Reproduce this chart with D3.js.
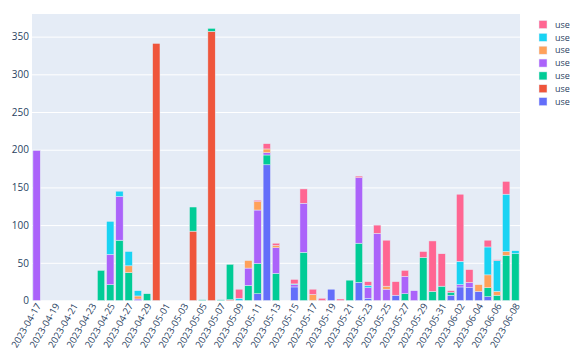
<!DOCTYPE html>
<html><head><meta charset="utf-8">
<script src="https://cdn.jsdelivr.net/npm/d3@7"></script>
<style>body{margin:0;background:#fff;} svg{display:block;font-family:"Open Sans",sans-serif;}</style>
</head><body><svg id="c" width="570" height="350"></svg>
<script>
const dates = ["2023-04-17","2023-04-24","2023-04-25","2023-04-26","2023-04-27","2023-04-28","2023-04-29","2023-04-30",
"2023-05-04","2023-05-05","2023-05-06","2023-05-07","2023-05-08","2023-05-09","2023-05-10","2023-05-11","2023-05-12","2023-05-13",
"2023-05-15","2023-05-16","2023-05-17","2023-05-18","2023-05-19","2023-05-20","2023-05-21","2023-05-22","2023-05-23","2023-05-24",
"2023-05-25","2023-05-26","2023-05-27","2023-05-28","2023-05-29","2023-05-30","2023-05-31","2023-06-01","2023-06-02","2023-06-03",
"2023-06-04","2023-06-05","2023-06-06","2023-06-07","2023-06-08"];
// stacking order bottom -> top
const seriesKeys = ["s1","s2","s3","s4","s5","s6","s7"];
const seriesLabels = ["use","use","use","use","use","use","use"];
const seriesColors = ["#636efa","#EF553B","#00cc96","#ab63fa","#FFA15A","#19d3f3","#FF6692"];
const blue   = [0,0,0,0,0,0,0,0, 0,0,0,0,0,0,0,9,180,0, 18,0,0,0,15,0,0,24,3,0, 0,7,0,0,0,0,0,7,18,17, 12,5,0,0,0];
const red    = [0,0,0,0,0,0,0,341, 92,0,357,0,1,0,0,0,0,0, 0,0,0,0,0,0,0,0,0,0, 0,0,0,0,0,0,0,0,0,0, 0,0,0,0,0];
const green  = [0,40,21,80,37,0,9,0, 32,1,4,1,47,0,20,40,13,36, 0,64,0,0,0,0,27,52,0,0, 0,0,9,0,57,12,19,4,0,0, 0,12,7,60,62];
const purple = [199,0,40,58,0,2,0,0, 0,0,0,0,0,0,23,71,3,34, 3,65,0,0,0,0,0,87,14,89, 15,0,23,13,0,0,0,0,3,7, 0,0,0,0,0];
const orange = [0,0,0,0,9,4,0,0, 0,0,0,0,0,0,10,11,5,3, 0,0,8,0,0,0,0,0,0,0, 4,0,0,0,0,0,0,0,0,0, 9,17,5,5,0];
const cyan   = [0,0,44,7,19,7,0,0, 0,0,0,0,0,3,0,0,0,0, 1,0,0,0,0,0,0,0,3,0, 0,0,0,0,0,0,0,0,31,0, 0,37,41,76,4];
const pink   = [0,0,0,0,0,0,0,0, 0,0,0,0,0,12,0,2,7,3, 6,19,7,3,0,2,0,2,5,11, 61,18,8,0,8,67,43,2,89,17, 0,9,1,17,0];
const seriesValues = [blue, red, green, purple, orange, cyan, pink];
const xTickLabels = ["2023-04-17","2023-04-19","2023-04-21","2023-04-23","2023-04-25","2023-04-27","2023-04-29","2023-05-01",
"2023-05-03","2023-05-05","2023-05-07","2023-05-09","2023-05-11","2023-05-13","2023-05-15","2023-05-17","2023-05-19","2023-05-21",
"2023-05-23","2023-05-25","2023-05-27","2023-05-29","2023-05-31","2023-06-02","2023-06-04","2023-06-06","2023-06-08"];
const yTicks = [0,50,100,150,200,250,300,350];

const svg = d3.select("#c");
const L = 32, R = 520, T = 14, B = 300.5;
const DAY = 86400000;
const parse = s => new Date(s + "T00:00:00Z");
const x = d3.scaleUtc().domain([new Date(parse("2023-04-17") - DAY/2), new Date(+parse("2023-06-08") + DAY/2)]).range([L, R]);
const y = d3.scaleLinear().domain([0, 380]).range([B, T]);
const textColor = "#2a3f5f";

svg.append("rect").attr("x", L).attr("y", T).attr("width", R - L).attr("height", B - T).attr("fill", "#E5ECF6");

// y grid + labels
const yAxis = d3.axisLeft(y).tickValues(yTicks).tickSize(-(R - L)).tickPadding(3);
const gy = svg.append("g").attr("transform", `translate(${L},0)`).call(yAxis);
gy.select(".domain").remove();
gy.selectAll(".tick line").attr("stroke", "#fff").attr("stroke-width", 1);
gy.selectAll(".tick text").attr("fill", textColor).attr("font-size", 10).attr("font-family", "Open Sans");

// stacked bars
const table = dates.map((d, i) => {
  const o = { date: d };
  seriesKeys.forEach((n, k) => o[n] = seriesValues[k][i]);
  return o;
});
const stack = d3.stack().keys(seriesKeys)(table);
const bw = 0.8 * DAY;
stack.forEach((layer, k) => {
  svg.append("g").selectAll("rect").data(layer.filter(s => s[1] - s[0] > 0)).join("rect")
    .attr("x", s => x(new Date(+parse(s.data.date) - bw/2)))
    .attr("width", s => x(new Date(+parse(s.data.date) + bw/2)) - x(new Date(+parse(s.data.date) - bw/2)))
    .attr("y", s => y(s[1]))
    .attr("height", s => y(s[0]) - y(s[1]))
    .attr("fill", seriesColors[k])
    .attr("stroke", "#E5ECF6").attr("stroke-width", 0.5);
});

// x axis labels
const xAxis = d3.axisBottom(x).tickValues(xTickLabels.map(parse)).tickSize(0).tickFormat(d3.utcFormat("%Y-%m-%d"));
const gx = svg.append("g").attr("transform", `translate(1.5,${B + 3.5})`).call(xAxis);
gx.select(".domain").remove();
gx.selectAll(".tick text")
  .attr("fill", textColor).attr("font-size", 9.5).attr("font-family", "Open Sans")
  .attr("text-anchor", "end").attr("y", 0).attr("dy", "0.35em")
  .attr("transform", "rotate(-60)");

// legend (top of stack first)
const lg = svg.append("g").attr("transform", "translate(539,0)");
const order = d3.range(seriesKeys.length).reverse();
order.forEach((k, i) => {
  const cy = 24.5 + i * 12.85;
  lg.append("rect").attr("x", 0).attr("y", cy - 4).attr("width", 8).attr("height", 8)
    .attr("fill", seriesColors[k]).attr("stroke", "#E5ECF6").attr("stroke-width", 0.5);
  lg.append("text").attr("x", 16).attr("y", cy).attr("dy", "0.35em")
    .attr("font-size", 9).attr("font-family", "Open Sans").attr("fill", textColor).text(seriesLabels[k]);
});
</script></body></html>
